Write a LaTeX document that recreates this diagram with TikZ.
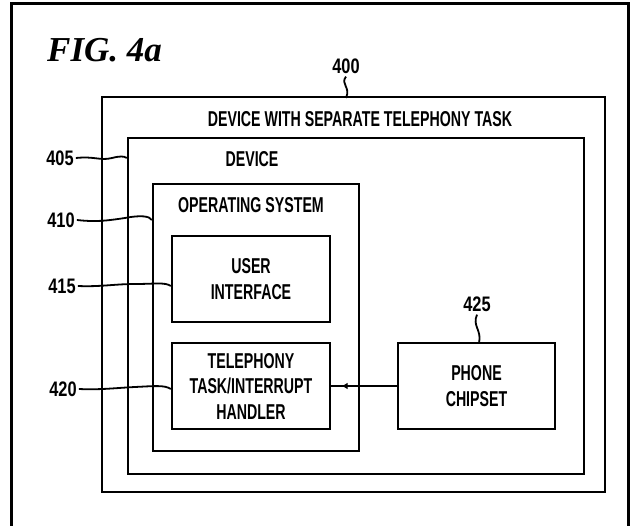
\documentclass[tikz,border=0pt]{standalone}
\usepackage{fontspec}
\usetikzlibrary{arrows.meta,decorations.markings}
\newfontfamily\pat[FakeStretch=0.66]{Liberation Sans}
\newfontfamily\patnum[FakeStretch=0.78]{Liberation Sans}
\newfontfamily\figfont{Liberation Serif}
\tikzset{
  box/.style={draw, line width=2.4pt, inner sep=0pt, align=center,
    font=\pat\bfseries\fontsize{21.5}{25.5}\selectfont},
  lbl/.style={font=\pat\bfseries\fontsize{21.5}{24}\selectfont, inner sep=0pt},
  num/.style={font=\patnum\bfseries\fontsize{21}{22}\selectfont, inner sep=0pt},
  lead/.style={line width=1.8pt},
}
\begin{document}
\begin{tikzpicture}[x=1pt,y=-1pt]
\useasboundingbox (0,0) rectangle (631,526);
% frame
\draw[line width=3pt] (11.5,530) -- (11.5,4) -- (628.5,4) -- (628.5,530);
\node[anchor=base west, inner sep=0pt, font=\figfont\fontsize{35}{38}\selectfont\bfseries\itshape] (fig) at (47,62) {FIG. 4a};
% boxes
\node[box, minimum width=503pt, minimum height=395pt] (b400) at (353.5,294.5) {};
\node[box, minimum width=456pt, minimum height=336pt] (b405) at (356,306) {};
\node[box, minimum width=206pt, minimum height=267pt] (b410) at (256,317.5) {};
\node[box, minimum width=158pt, minimum height=86pt] (ui) at (251,279) {USER\\INTERFACE};
\node[box, minimum width=158pt, minimum height=86pt] (tel) at (251,386) {TELEPHONY\\TASK/INTERRUPT\\HANDLER};
\node[box, minimum width=157pt, minimum height=86pt] (chip) at (476.5,386) {PHONE\\CHIPSET};
% titles
\node[lbl] (t400) at (360,119) {DEVICE WITH SEPARATE TELEPHONY TASK};
\node[lbl] (t405) at (252,159) {DEVICE};
\node[lbl] (t410) at (251,205) {OPERATING SYSTEM};
% reference numerals
\node[num] (n400) at (346,66) {400};
\node[num] (n405) at (60,158) {405};
\node[num] (n410) at (61,220) {410};
\node[num] (n415) at (62,286) {415};
\node[num] (n420) at (63,389) {420};
\node[num] (n425) at (477,304) {425};
% leaders
\draw[lead] (n400.south) ++(0,3) coordinate (a400)
  (a400) .. controls (340,84) and (351,87) .. (346,98);
\draw[lead] (n425.south) ++(0,3) coordinate (a425)
  (a425) .. controls (472,326) and (482,330) .. (479,343);
\draw[lead] (n405.east) ++(2,0) coordinate (s405)
  (s405) .. controls (95,156) and (100,161) .. (112,158) .. controls (120,156) and (124,156) .. (b405.west |- n405);
\draw[lead] (n410.east) ++(2,0) coordinate (s410)
  (s410) .. controls (95,222) and (105,221) .. (125,218) .. controls (140,215) and (150,216) .. (b410.west |- n410);
\draw[lead] (n415.east) ++(2,0) coordinate (s415)
  (s415) .. controls (100,287) and (115,284) .. (135,284) .. controls (155,284) and (165,282) .. (ui.west |- n415);
\draw[lead] (n420.east) ++(2,0) coordinate (s420)
  (s420) .. controls (100,390) and (115,388) .. (135,387) .. controls (155,386) and (165,385) .. (tel.west |- n420);
% connector
\draw[line width=2.4pt, postaction={decorate}, decoration={markings,
  mark=at position 0.84 with {\arrow{Latex[length=6pt,width=7pt]}}}]
  (chip.west) -- (tel.east);
\end{tikzpicture}
\end{document}
